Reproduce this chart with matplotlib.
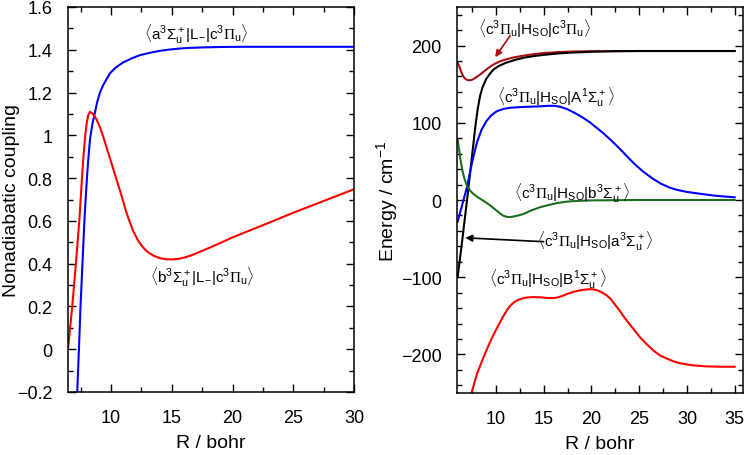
import matplotlib
matplotlib.use("Agg")
import matplotlib.pyplot as plt
from matplotlib.ticker import MultipleLocator, FuncFormatter

plt.rcParams['font.family'] = ['Liberation Sans', 'DejaVu Sans']
plt.rcParams['mathtext.fontset'] = 'custom'
plt.rcParams['mathtext.rm'] = 'Liberation Sans'
plt.rcParams['mathtext.it'] = 'Liberation Sans:italic'
plt.rcParams['mathtext.bf'] = 'Liberation Sans:bold'
plt.rcParams['mathtext.tt'] = 'Liberation Serif'

# ---------------- Left panel data: nonadiabatic couplings ----------------
R_a_L = [7.10, 7.21, 7.35, 7.48, 7.64, 7.80, 7.90, 8.04, 8.15, 8.26, 8.45, 8.67,
         8.85, 9.08, 9.35, 9.60, 9.90, 10.4, 11.0, 11.7, 12.38, 13.2, 14.0, 14.8,
         15.67, 16.5, 17.5, 19.0, 21.0, 25.0, 30.0]
V_a_L = [-0.35, -0.20, 0.00, 0.20, 0.40, 0.60, 0.70, 0.826, 0.91, 0.98, 1.05, 1.107,
         1.155, 1.20, 1.235, 1.26, 1.29, 1.318, 1.341, 1.36, 1.375, 1.386, 1.395, 1.401,
         1.406, 1.409, 1.411, 1.413, 1.414, 1.414, 1.414]

R_b_L = [6.45, 6.80, 7.10, 7.38, 7.60, 7.75, 7.87, 8.00, 8.12, 8.26, 8.50, 8.80,
         9.10, 9.40, 9.70, 10.0, 10.3, 10.6, 10.9, 11.2, 11.5, 11.8, 12.2, 12.6,
         13.0, 13.5, 14.0, 14.5, 15.0, 15.5, 16.0, 16.5, 17.0, 17.5, 18.0, 19.0,
         20.0, 22.5, 25.0, 27.5, 30.0]
V_b_L = [0.00, 0.20, 0.40, 0.60, 0.80, 0.92, 1.00, 1.06, 1.095, 1.11, 1.10, 1.075,
         1.035, 0.985, 0.93, 0.875, 0.82, 0.765, 0.71, 0.65, 0.60, 0.555, 0.51, 0.478,
         0.455, 0.437, 0.426, 0.421, 0.420, 0.422, 0.428, 0.437, 0.448, 0.460, 0.472, 0.497,
         0.523, 0.580, 0.638, 0.693, 0.748]

# ---------------- Right panel data: spin-orbit couplings (cm^-1) ----------------
R_cc = [6.0, 6.2, 6.4, 6.6, 6.8, 7.0, 7.2, 7.45, 7.7, 8.0, 8.4, 8.8, 9.2, 9.75,
        10.4, 11.15, 12.0, 12.9, 14.0, 15.0, 16.4, 18.0, 20.0, 25.0, 35.0]
V_cc = [178, 172, 165, 160, 157, 155.5, 155, 155.5, 157, 159.5, 163, 167, 171, 175.5,
        179.5, 182.5, 185, 187, 189, 190.3, 191.5, 192.3, 192.8, 193, 193]

R_ca = [6.0, 6.5, 7.0, 7.3, 7.6, 7.85, 8.1, 8.35, 8.6, 9.0, 9.4, 9.75, 10.3,
        11.0, 12.0, 13.0, 14.0, 15.0, 16.5, 18.0, 20.0, 22.5, 25.0, 35.0]
V_ca = [-100, -50, 2, 35, 68, 95, 118, 135, 146, 157, 164, 169, 173.5,
        177.5, 181.5, 184.5, 186.5, 188, 189.8, 191, 192, 192.7, 193, 193]

R_cA = [6.0, 6.5, 7.0, 7.5, 8.0, 8.5, 9.0, 9.5, 10.1, 10.8, 11.5, 12.5, 13.5,
        14.5, 15.5, 16.2, 16.8, 17.5, 18.3, 19.0, 19.8, 20.5, 21.25, 22.0, 23.0,
        24.0, 24.7, 25.5, 26.5, 27.3, 28.2, 29.0, 30.0, 31.7, 33.0, 35.0]
V_cA = [-28, -5, 18, 48, 74, 91, 102, 109.5, 115, 118, 119.5, 120.3, 120.8,
        121.3, 122, 122, 120.5, 117.5, 112.5, 107.5, 101, 94, 86.5, 78, 66,
        53, 44.5, 36, 27, 21, 16, 13, 10.5, 7.5, 5.5, 3.5]

R_cb = [6.0, 6.15, 6.3, 6.5, 6.7, 6.97, 7.3, 7.66, 8.0, 8.5, 9.0, 9.4, 9.9,
        10.4, 10.8, 11.2, 11.6, 12.0, 12.5, 12.9, 13.7, 14.6, 15.5, 16.4, 17.2,
        18.0, 20.0, 25.0, 35.0]
V_cb = [78, 65, 52, 38, 28, 18.5, 12, 7.7, 4.5, 0.5, -3.5, -7, -12,
        -17, -20.5, -22, -22, -21, -19.5, -18, -13.5, -9.5, -6.5, -4, -2.5,
        -1.5, -0.5, 0, 0]

R_cB = [7.0, 7.5, 8.0, 8.5, 9.0, 9.5, 10.1, 10.5, 10.8, 11.2, 11.5, 11.9, 12.3,
        12.9, 13.5, 14.0, 14.6, 15.5, 16.0, 16.4, 16.9, 17.5, 18.1, 18.8, 19.5,
        20.0, 20.5, 21.0, 21.6, 22.0, 22.5, 23.0, 23.5, 24.2, 25.1, 25.8, 26.5,
        27.2, 28.0, 28.7, 29.3, 30.5, 32.0, 33.5, 35.0]
V_cB = [-290, -248, -226, -210, -195, -181, -166, -157, -150, -142, -137, -132.5, -129.5,
        -127, -126, -125.8, -126, -127, -127, -126.5, -124.5, -121.5, -119, -117, -115.8,
        -115.5, -116.5, -119, -123.5, -128, -136, -144, -153, -164, -178, -187, -195,
        -201.5, -206, -209.5, -211.5, -214, -215.5, -216, -216]

left_xticks = [10, 15, 20, 25, 30]
left_yticks = [-0.2, 0, 0.2, 0.4, 0.6, 0.8, 1.0, 1.2, 1.4, 1.6]
right_xticks = [10, 15, 20, 25, 30, 35]
right_yticks = [-200, -100, 0, 100, 200]

BLUE = '#0000ff'
RED = '#ff0000'
DARKRED = '#a81010'
GREEN = '#1b6e1b'
BLACK = '#000000'

PI = r'\mathtt{\Pi}'

def fmt(v, pos):
    s = '%g' % v
    return s.replace('-', '\u2212')

fig = plt.figure(figsize=(7.49, 4.56), dpi=100)
axL = fig.add_axes([68 / 749, 1 - 393 / 456, 286 / 749, 385 / 456])
axR = fig.add_axes([457 / 749, 1 - 394 / 456, 286 / 749, 386 / 456])

lw = 1.5
tick_fs = 13
lab_fs = 14
ann_fs = 11

for ax in (axL, axR):
    for sp in ax.spines.values():
        sp.set_linewidth(1.1)
    ax.tick_params(which='both', direction='in', top=True, right=True, width=1.0,
                   labelsize=tick_fs)
    ax.tick_params(axis='x', which='both', pad=12)
    ax.tick_params(axis='y', which='both', pad=11)
    ax.tick_params(which='major', length=6)
    ax.tick_params(which='minor', length=3.5)
    ax.xaxis.set_major_formatter(FuncFormatter(fmt))
    ax.yaxis.set_major_formatter(FuncFormatter(fmt))

# Left panel
axL.plot(R_a_L, V_a_L, color=BLUE, lw=lw)
axL.plot(R_b_L, V_b_L, color=RED, lw=lw)
axL.set_xlim(6.45, 30)
axL.set_ylim(-0.2, 1.6)
axL.set_xticks(left_xticks)
axL.set_yticks(left_yticks)
axL.xaxis.set_minor_locator(MultipleLocator(2.5))
axL.yaxis.set_minor_locator(MultipleLocator(0.1))
axL.set_xlabel('R / bohr', fontsize=lab_fs, labelpad=6)
axL.set_ylabel('Nonadiabatic coupling', fontsize=lab_fs)
axL.yaxis.set_label_coords(-0.168, 0.5)
axL.text(17.0, 1.474, r'$\langle\mathrm{a}^3\Sigma_\mathrm{u}^+|\mathrm{L}_{-}|\mathrm{c}^3' + PI + r'_\mathrm{u}\rangle$',
         fontsize=ann_fs, ha='center', va='center')
axL.text(17.5, 0.341, r'$\langle\mathrm{b}^3\Sigma_\mathrm{u}^+|\mathrm{L}_{-}|\mathrm{c}^3' + PI + r'_\mathrm{u}\rangle$',
         fontsize=ann_fs, ha='center', va='center')

# Right panel
axR.plot(R_cc, V_cc, color=DARKRED, lw=lw)
axR.plot(R_ca, V_ca, color=BLACK, lw=lw)
axR.plot(R_cA, V_cA, color=BLUE, lw=lw)
axR.plot(R_cb, V_cb, color=GREEN, lw=lw)
axR.plot(R_cB, V_cB, color=RED, lw=lw)
axR.set_xlim(5.93, 35.87)
axR.set_ylim(-250, 250)
axR.set_xticks(right_xticks)
axR.set_yticks(right_yticks)
axR.xaxis.set_minor_locator(MultipleLocator(2.5))
axR.yaxis.set_minor_locator(MultipleLocator(20))
axR.set_xlabel('R / bohr', fontsize=lab_fs, labelpad=6)
axR.set_ylabel(r'Energy / cm$^{-1}$', fontsize=lab_fs)
axR.yaxis.set_label_coords(-0.198, 0.5)

cpre = r'$\langle\mathrm{c}^3' + PI + r'_\mathrm{u}|\mathrm{H}_\mathrm{SO}|'
axR.text(14.0, 223, cpre + r'\mathrm{c}^3' + PI + r'_\mathrm{u}\rangle$',
         fontsize=ann_fs, ha='center', va='center')
axR.annotate('', xy=(9.93, 185), xytext=(11.5, 213),
             arrowprops=dict(arrowstyle='-|>', color=DARKRED, lw=1.2,
                             mutation_scale=10, shrinkA=0, shrinkB=0))
axR.text(16.3, 134.6, cpre + r'\mathrm{A}^1\Sigma_\mathrm{u}^+\rangle$',
         fontsize=ann_fs, ha='center', va='center')
axR.text(18.0, 10, cpre + r'\mathrm{b}^3\Sigma_\mathrm{u}^+\rangle$',
         fontsize=ann_fs, ha='center', va='center')
axR.text(20.4, -52.5, cpre + r'\mathrm{a}^3\Sigma_\mathrm{u}^+\rangle$',
         fontsize=ann_fs, ha='center', va='center')
axR.annotate('', xy=(6.8, -49), xytext=(15.0, -54),
             arrowprops=dict(arrowstyle='-|>', color=BLACK, lw=1.2,
                             mutation_scale=10, shrinkA=0, shrinkB=0))
axR.text(15.4, -102, cpre + r'\mathrm{B}^1\Sigma_\mathrm{u}^+\rangle$',
         fontsize=ann_fs, ha='center', va='center')

fig.savefig('out.png', dpi=100)
